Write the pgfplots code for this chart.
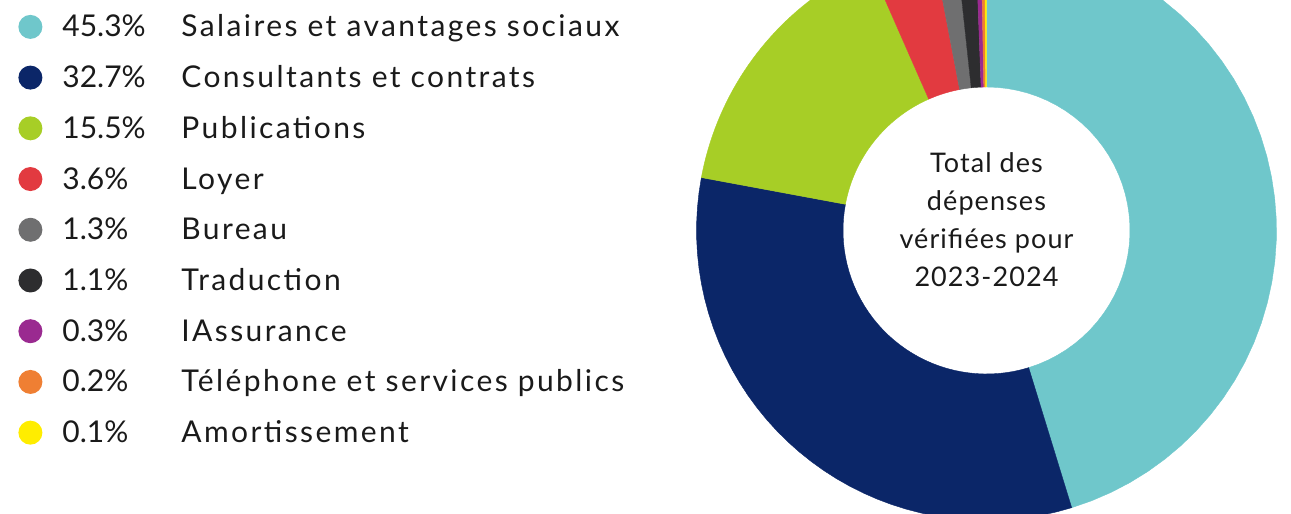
\documentclass[border=0pt]{standalone}
\usepackage{fontspec}
\setmainfont{Lato}
\newfontfamily\labfont{Lato}[LetterSpace=8]
\newfontfamily\ctrfont{Lato}[LetterSpace=4]
\usepackage{pgfplots}
\pgfplotsset{compat=1.18}
\definecolor{cTeal}{HTML}{6FC7CB}
\definecolor{cNavy}{HTML}{0B2668}
\definecolor{cGreen}{HTML}{A7CE26}
\definecolor{cRed}{HTML}{E23A40}
\definecolor{cGray}{HTML}{6F6F70}
\definecolor{cBlack}{HTML}{2D2D2F}
\definecolor{cPurple}{HTML}{9A2A90}
\definecolor{cOrange}{HTML}{EF7F33}
\definecolor{cYellow}{HTML}{FFED00}
\definecolor{textc}{HTML}{1A1A1A}

% centre and radii of the ring, in picture pixels (y upwards)
\def\cx{986.5}\def\cy{283.5}\def\Ro{290}\def\Ri{143.5}
\newcommand\slice[3]{%
  \fill[#3, draw=#3, line width=0.2pt]
    plot[domain=#1:#2, samples=40, variable=\t] ({\cx+\Ro*sin(\t)},{\cy+\Ro*cos(\t)})
    -- plot[domain=#2:#1, samples=40, variable=\t] ({\cx+\Ri*sin(\t)},{\cy+\Ri*cos(\t)})
    -- cycle;}

% shares (percent) in the order of the ring, clockwise from the top
\def\slicelist{}
\gdef\cum{0}
\foreach \pct/\col in {45.3/cTeal, 32.7/cNavy, 15.5/cGreen, 3.6/cRed, 1.3/cGray,
                   1.1/cBlack, 0.3/cPurple, 0.2/cOrange, 0.1/cYellow}{%
  \pgfmathsetmacro\angA{\cum/100.1*360}%
  \pgfmathsetmacro\newcum{\cum+\pct}%
  \pgfmathsetmacro\angB{\newcum/100.1*360}%
  \xdef\slicelist{\unexpanded\expandafter{\slicelist}\noexpand\slice{\angA}{\angB}{\col}}%
  \xdef\cum{\newcum}%
}
\newcommand\entry[2]{\makebox[59.5pt][l]{#1}{\labfont #2}}

\begin{document}
\begin{tikzpicture}
\begin{axis}[
  name=ax,
  scale only axis,
  width=645.5pt, height=257pt,
  xmin=0, xmax=1291, ymin=0, ymax=514,
  hide axis,
  clip=true,
  legend style={at={(0.01394,0.9718)}, anchor=north west, draw=none, fill=none,
    inner sep=0pt, row sep=13.36pt, column sep=10pt,
    nodes={inner sep=0pt, text height=11pt, text depth=1pt,
      font=\fontsize{15}{18}\selectfont, text=textc}},
  legend cell align=left,
  legend image code/.code={\fill[#1, draw=none] (6pt,0pt) circle (6pt);},
]
\slicelist
\node[align=center, font=\ctrfont\fontsize{13.5}{19}\selectfont, text=textc]
  at (axis cs:986.5,294) {Total des\\dépenses\\vérifiées pour\\2023-2024};
\addlegendimage{fill=cTeal}
\addlegendentry{\entry{45.3\%}{Salaires et avantages sociaux}}
\addlegendimage{fill=cNavy}
\addlegendentry{\entry{32.7\%}{Consultants et contrats}}
\addlegendimage{fill=cGreen}
\addlegendentry{\entry{15.5\%}{Publications}}
\addlegendimage{fill=cRed}
\addlegendentry{\entry{3.6\%}{Loyer}}
\addlegendimage{fill=cGray}
\addlegendentry{\entry{1.3\%}{Bureau}}
\addlegendimage{fill=cBlack}
\addlegendentry{\entry{1.1\%}{Traduction}}
\addlegendimage{fill=cPurple}
\addlegendentry{\entry{0.3\%}{IAssurance}}
\addlegendimage{fill=cOrange}
\addlegendentry{\entry{0.2\%}{Téléphone et services publics}}
\addlegendimage{fill=cYellow}
\addlegendentry{\entry{0.1\%}{Amortissement}}
\end{axis}
\pgfresetboundingbox
\path (ax.south west) rectangle (ax.north east);
\end{tikzpicture}
\end{document}
